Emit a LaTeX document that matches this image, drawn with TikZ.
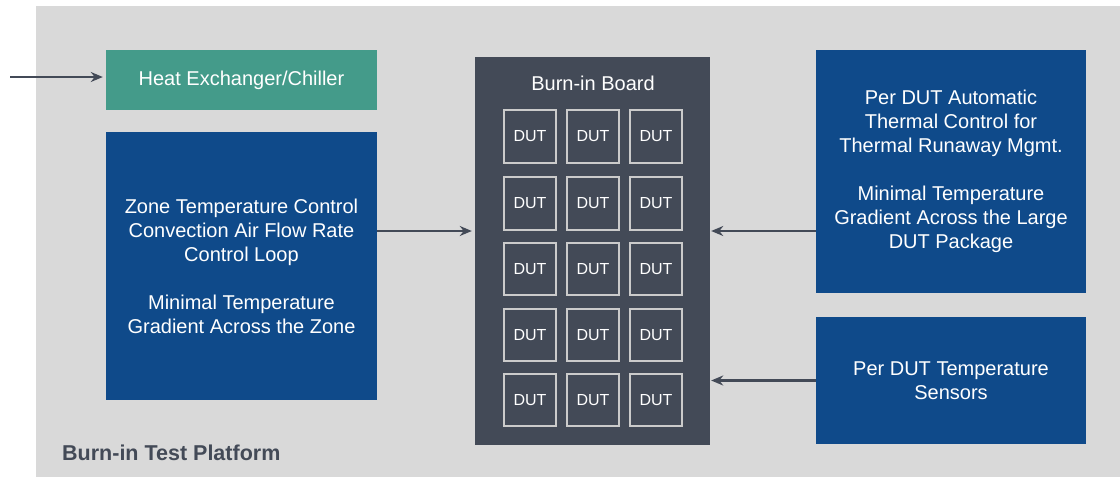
\documentclass[tikz,border=0pt]{standalone}
\usepackage{fontspec}
\setmainfont{Liberation Sans}
\usetikzlibrary{arrows.meta, positioning}
\definecolor{platgray}{HTML}{D9D9D9}
\definecolor{chillteal}{HTML}{449B8A}
\definecolor{ctrlblue}{HTML}{0F4A8A}
\definecolor{boardgray}{HTML}{434A57}
\definecolor{dutedge}{HTML}{CBCBCB}

\begin{document}
\begin{tikzpicture}[
    x=1pt, y=-1pt, >={Stealth[length=12pt, width=10pt]},
    blk/.style={inner sep=0pt, align=center, text=white,
                font=\fontsize{20}{24}\selectfont},
    dut/.style={draw=dutedge, line width=1.8pt, fill=boardgray,
                minimum size=52.5pt, inner sep=0pt, text=white,
                font=\fontsize{16}{19}\selectfont},
    flow/.style={->, draw=boardgray, line width=2.6pt}
  ]
  \useasboundingbox (0,0) rectangle (1120,477);
  \fill[platgray] (36,6) rectangle (1120,477);

  \node[blk, fill=chillteal, minimum width=271pt, minimum height=60pt]
    (chiller) at (241.5,80) {Heat Exchanger/Chiller};
  \node[blk, fill=ctrlblue, minimum width=271pt, minimum height=268pt]
    (zone) at (241.5,266)
    {Zone Temperature Control\\Convection Air Flow Rate\\Control Loop\\[24pt]
     Minimal Temperature\\Gradient Across the Zone};
  \node[blk, fill=boardgray, minimum width=235pt, minimum height=388pt]
    (board) at (592.5,251) {};
  \node[blk] (boardlbl) at (593,83) {Burn-in Board};
  \foreach \r [count=\j] in {136.5,203.5,269,335,400}
    \foreach \c [count=\i] in {530,593,656}
      \node[dut] (dut\j\i) at (\c,\r) {DUT};
  \node[blk, fill=ctrlblue, minimum width=270pt, minimum height=243pt]
    (ctrl) at (951,171.5)
    {Per DUT Automatic\\Thermal Control for\\Thermal Runaway Mgmt.\\[24pt]
     Minimal Temperature\\Gradient Across the Large\\DUT Package};
  \node[blk, fill=ctrlblue, minimum width=270pt, minimum height=127pt]
    (sensor) at (951,380.5) {Per DUT Temperature\\Sensors};
  \node[anchor=base west, inner sep=0pt, text=boardgray,
        font=\fontsize{21.5}{25}\selectfont\bfseries]
    (platlbl) at (62,460.5) {Burn-in Test Platform};

  \coordinate (feed) at (10,77);
  \draw[flow, shorten >=3pt] (feed) -- (feed -| chiller.west);
  \draw[flow, shorten >=3pt] ([yshift=35pt]zone.east)
    -- ([yshift=35pt]zone.east -| board.west);
  \draw[flow, shorten >=1pt] ([yshift=-59.5pt]ctrl.west)
    -- ([yshift=-59.5pt]ctrl.west -| board.east);
  \draw[flow, shorten >=1pt] (sensor.west) -- (sensor.west -| board.east);
\end{tikzpicture}
\end{document}
